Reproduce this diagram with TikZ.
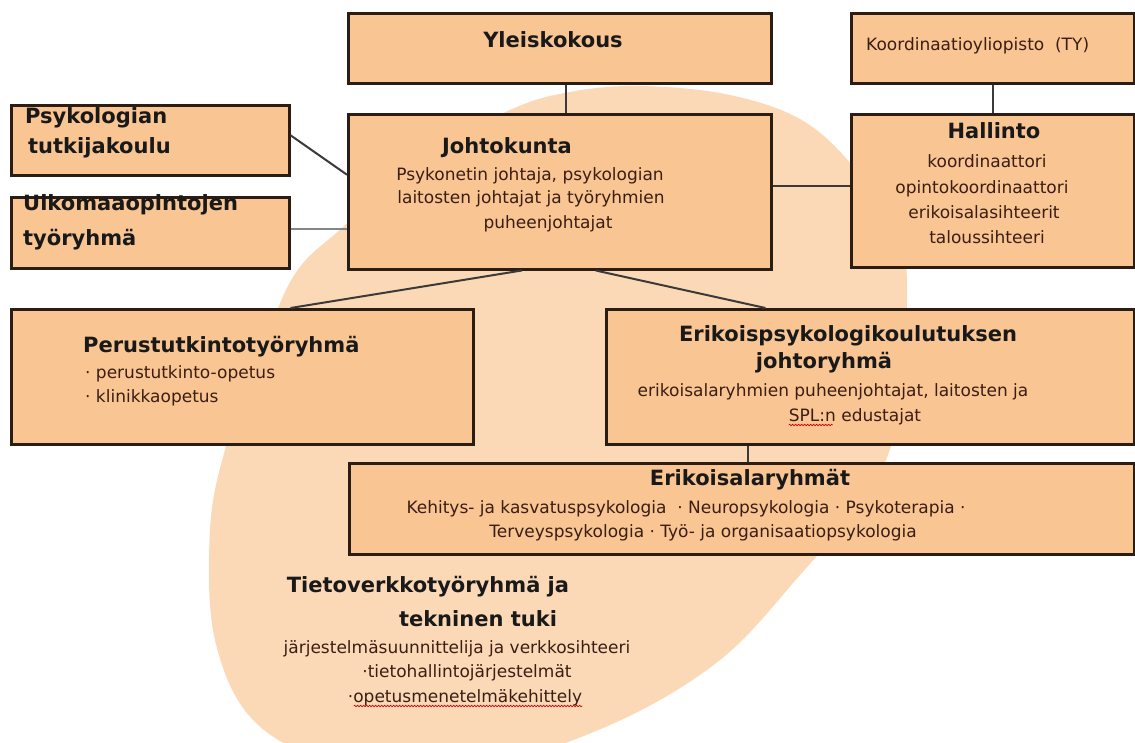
\documentclass[tikz,border=0pt]{standalone}
\usepackage{fontspec}
\setmainfont{DejaVu Sans}
\usetikzlibrary{decorations.pathmorphing}
\definecolor{boxfill}{HTML}{F9C593}
\definecolor{blobfill}{HTML}{FCD9B6}
\definecolor{boxline}{HTML}{2B1D14}
\definecolor{bodytext}{HTML}{3A1E14}
\definecolor{linedark}{HTML}{3A3A3A}
\definecolor{linegrey}{HTML}{858585}
\tikzset{
  box/.style={draw=boxline, line width=2.5pt, fill=boxfill, inner sep=0pt, anchor=north west},
  ttl/.style={font=\fontsize{21}{26}\selectfont\bfseries, text=black!90, inner sep=0pt, anchor=base},
  bdy/.style={font=\fontsize{17}{24}\selectfont, text=bodytext, inner sep=0pt, anchor=base},
  conn/.style={draw=linedark, line width=2pt},
  connlight/.style={draw=linegrey, line width=2pt},
  wavy/.style={draw=red!80!black, line width=0.6pt, decorate, decoration={snake, amplitude=0.8pt, segment length=3pt}}
}
\begin{document}
\begin{tikzpicture}[x=1pt,y=-1pt]
\useasboundingbox (0,0) rectangle (1135,742);
\fill[white] (0,0) rectangle (1135,742);
% background blob
\fill[blobfill] plot[smooth cycle, tension=0.6] coordinates {
 (640,86) (730,95) (805,122) (860,175) (900,240) (907,300) (900,380) (888,455)
 (850,515) (800,575) (720,660) (610,725) (480,765) (340,762) (255,722) (215,640)
 (210,530) (225,450) (255,370) (293,277) (343,227) (420,160) (510,110) (570,92)};
% boxes
\node[box, minimum width=423pt, minimum height=70pt]  (yleis) at (347,12)  {};
\node[box, minimum width=283pt, minimum height=70pt]  (koord) at (850,12)  {};
\node[box, minimum width=278pt, minimum height=70pt]  (psyk)  at (10,104)  {};
\node[box, minimum width=278pt, minimum height=71pt]  (ulko)  at (10,196)  {};
\node[box, minimum width=423pt, minimum height=155pt] (johto) at (347,113) {};
\node[box, minimum width=283pt, minimum height=153pt] (hall)  at (850,113) {};
\node[box, minimum width=462pt, minimum height=135pt] (perus) at (10,308)  {};
\node[box, minimum width=528pt, minimum height=135pt] (erik)  at (605,308) {};
\node[box, minimum width=785pt, minimum height=91pt]  (ala)   at (348,462) {};
% connectors
\draw[conn] ([xshift=6pt]yleis.south) -- ([xshift=6pt]johto.north);
\draw[conn] (koord.south) -- (hall.north);
\draw[conn] ([yshift=5pt]psyk.east) -- ([yshift=17pt]johto.west);
\draw[connlight] ([yshift=4pt]ulko.east) -- ([yshift=-37pt]johto.west);
\draw[conn] (johto.east |- 0,186) -- (hall.west |- 0,186);
\draw[conn] ([xshift=-38pt]johto.south) -- ([xshift=-184pt]perus.north east);
\draw[conn] ([xshift=36pt]johto.south) -- ([xshift=-370pt]erik.north east);
\draw[conn] (erik.south -| 748,0) -- (ala.north -| 748,0);
% texts
\node[ttl] (t1) at (553,47) {Yleiskokous};
\node[bdy, anchor=base west] (t2) at (866,50) {Koordinaatioyliopisto~~(TY)};
\node[ttl, anchor=base west] (t3) at (25,123) {Psykologian};
\node[ttl, anchor=base west] (t4) at (28,153) {tutkijakoulu};
\node[ttl, anchor=base west] (t5) at (23,210) {Ulkomaaopintojen};
\node[ttl, anchor=base west] (t6) at (23,245) {työryhmä};
\node[ttl] (t7) at (507,153) {Johtokunta};
\node[bdy] (t8) at (530,180) {Psykonetin johtaja, psykologian};
\node[bdy] (t9) at (531,203) {laitosten johtajat ja työryhmien};
\node[bdy] (t10) at (548,228) {puheenjohtajat};
\node[ttl] (t11) at (994,138) {Hallinto};
\node[bdy] (t12) at (987,167) {koordinaattori};
\node[bdy] (t13) at (982,193) {opintokoordinaattori};
\node[bdy] (t14) at (984,218) {erikoisalasihteerit};
\node[bdy] (t15) at (987,243) {taloussihteeri};
\node[ttl, anchor=base west] (t16) at (83,352) {Perustutkintotyöryhmä};
\node[bdy, anchor=base west] (t17) at (85,378) {· perustutkinto-opetus};
\node[bdy, anchor=base west] (t18) at (85,402) {· klinikkaopetus};
\node[ttl] (t19) at (848,341) {Erikoispsykologikoulutuksen};
\node[ttl] (t20) at (824,368) {johtoryhmä};
\node[bdy] (t21) at (833,396) {erikoisalaryhmien puheenjohtajat, laitosten ja};
\node[bdy] (t22) at (855,421) {SPL:n edustajat};
\node[ttl] (t23) at (750,485) {Erikoisalaryhmät};
\node[bdy] (t24) at (686,513) {Kehitys- ja kasvatuspsykologia~ · Neuropsykologia · Psykoterapia ·};
\node[bdy] (t25) at (703,537) {Terveyspsykologia · Työ- ja organisaatiopsykologia};
\node[ttl] (t26) at (428,592) {Tietoverkkotyöryhmä ja};
\node[ttl] (t27) at (478,626) {tekninen tuki};
\node[bdy] (t28) at (457,653) {järjestelmäsuunnittelija ja verkkosihteeri};
\node[bdy] (t29) at (467,677) {·tietohallintojärjestelmät};
\node[bdy] (t30) at (465,702) {·opetusmenetelmäkehittely};
% spell-check underlines
\draw[wavy] ([yshift=-4pt]t22.base west) -- ([yshift=-4pt,xshift=44pt]t22.base west);
\draw[wavy] ([yshift=-4pt,xshift=6pt]t30.base west) -- ([yshift=-4pt]t30.base east);
\end{tikzpicture}
\end{document}
